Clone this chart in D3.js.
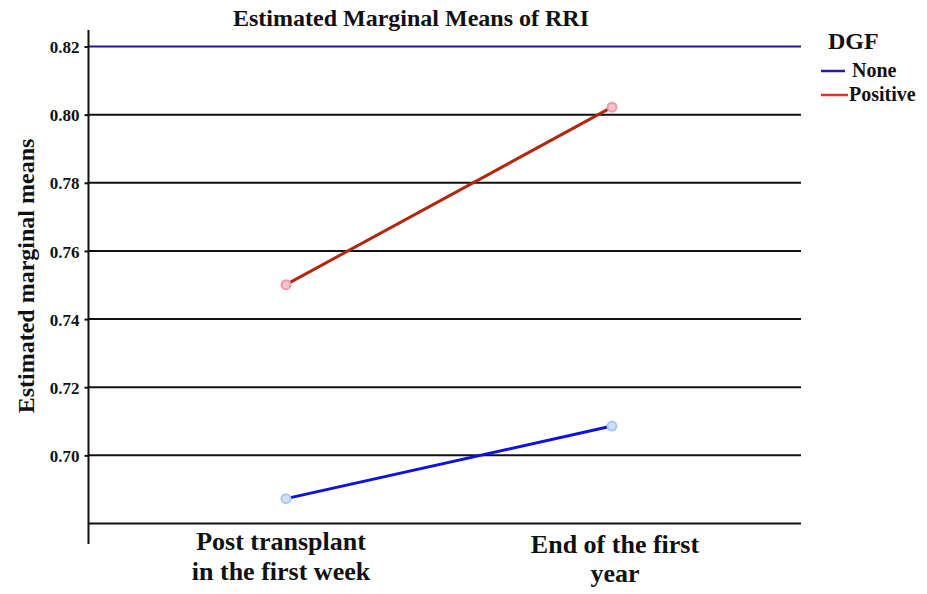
<!DOCTYPE html>
<html><head><meta charset="utf-8">
<script src="https://cdn.jsdelivr.net/npm/d3@7"></script>
<style>body{margin:0;background:#fff}svg{display:block}</style>
</head><body><svg id="c" width="927" height="594"></svg>
<script>
const categories = [["Post transplant","in the first week"],["End of the first","year"]];
const catKeys = ["Post transplant in the first week","End of the first year"];
const seriesNames = ["None","Positive"];
const noneValues = [0.6873, 0.7086];
const positiveValues = [0.7501, 0.8022];
const yTicks = [0.70, 0.72, 0.74, 0.76, 0.78, 0.80, 0.82];
const gridValues = [0.68, 0.70, 0.72, 0.74, 0.76, 0.78, 0.80, 0.82];

const FONT = "'Liberation Serif', 'DejaVu Serif', 'Times New Roman', Times, serif";
const svg = d3.select("#c");
const y = d3.scaleLinear().domain([0.68, 0.82]).range([523.5, 46.5]);
const x = d3.scalePoint().domain(catKeys).range([286, 612]);
const axisX = 88.5, gridRight = 801;

function txt(sel, size) {
  return sel.style("font-family", FONT).style("font-weight", "bold").style("font-size", size + "px").attr("fill", "#111");
}

// gridlines
svg.append("g").selectAll("line").data(gridValues).join("line")
  .attr("x1", axisX).attr("x2", gridRight)
  .attr("y1", d => y(d)).attr("y2", d => y(d))
  .attr("stroke", d => d === 0.82 ? "#24168c" : "#111")
  .attr("stroke-width", 2);

// y axis
const yAxis = d3.axisLeft(y).tickValues(yTicks).tickFormat(d3.format(".2f")).tickSize(4).tickPadding(5);
const gy = svg.append("g").attr("transform", `translate(${axisX},0)`).call(yAxis);
gy.select(".domain").remove();
gy.selectAll(".tick line").attr("stroke", "#111").attr("stroke-width", 2);
txt(gy.selectAll(".tick text"), 17).attr("dy", "0.36em");
svg.append("line").attr("x1", axisX).attr("x2", axisX).attr("y1", 30).attr("y2", 544)
  .attr("stroke", "#111").attr("stroke-width", 2);

// x category labels
const labelPos = [{dx: -5, y0: 550, y1: 580}, {dx: 3, y0: 553, y1: 582}];
categories.forEach((lines, i) => {
  lines.forEach((l, j) => {
    txt(svg.append("text"), 26).attr("text-anchor", "middle")
      .attr("x", x(catKeys[i]) + labelPos[i].dx)
      .attr("y", j === 0 ? labelPos[i].y0 : labelPos[i].y1).text(l);
  });
});

// series
const series = [
  {name: "None", values: noneValues, line: "#1010e0", fill: "#cfe0f8", stroke: "#a8c8f0"},
  {name: "Positive", values: positiveValues, line: "#b02810", fill: "#f6c4cc", stroke: "#ee9aaa"}
];
const lineGen = d3.line().x((d, i) => x(catKeys[i])).y(d => y(d));
series.forEach(s => {
  svg.append("path").datum(s.values).attr("d", lineGen)
    .attr("fill", "none").attr("stroke", s.line).attr("stroke-width", 3);
  svg.append("g").selectAll("circle").data(s.values).join("circle")
    .attr("cx", (d, i) => x(catKeys[i])).attr("cy", d => y(d)).attr("r", 4.5)
    .attr("fill", s.fill).attr("stroke", s.stroke).attr("stroke-width", 2);
});

// title
txt(svg.append("text"), 24).attr("x", 411).attr("y", 26).attr("text-anchor", "middle")
  .text("Estimated Marginal Means of RRI");

// y label
txt(svg.append("text"), 24).attr("transform", "translate(34,276) rotate(-90)").attr("text-anchor", "middle")
  .text("Estimated marginal means");

// legend
txt(svg.append("text"), 24).attr("x", 828).attr("y", 49).text("DGF");
const legColors = ["#2a1aa8", "#e83020"];
seriesNames.forEach((n, i) => {
  const yy = 71 + i * 24;
  svg.append("line").attr("x1", 821).attr("x2", i === 0 ? 845 : 848).attr("y1", yy).attr("y2", yy)
    .attr("stroke", legColors[i]).attr("stroke-width", 2.5);
  txt(svg.append("text"), 20).attr("x", i === 0 ? 852 : 849).attr("y", yy + 6).text(n);
});
</script></body></html>
